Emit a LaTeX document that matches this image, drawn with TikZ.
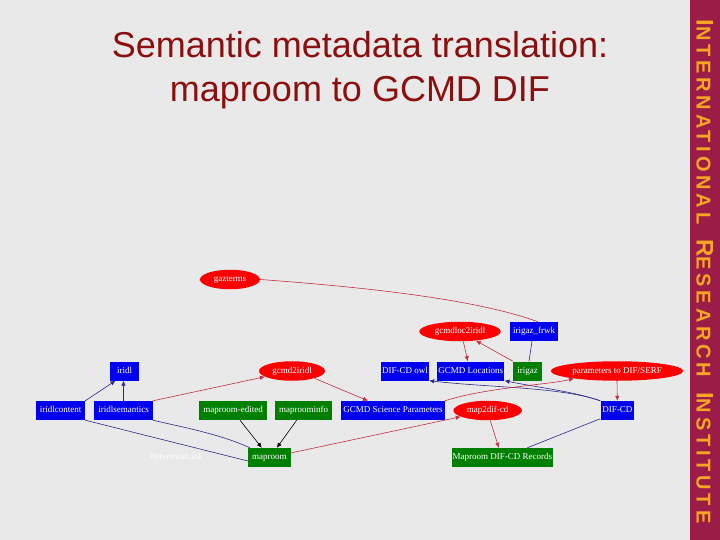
\documentclass[tikz,border=0pt]{standalone}
\usepackage{fontspec}
\setmainfont{Liberation Serif}
\newfontfamily\titlefont{Liberation Sans}
\newfontfamily\bandfont[LetterSpace=19]{Liberation Sans Bold}
\usetikzlibrary{shapes.geometric,arrows.meta}
\definecolor{bgc}{HTML}{E9E9E9}
\definecolor{bandc}{HTML}{9C1C48}
\definecolor{goldc}{HTML}{F5A623}
\definecolor{titlec}{HTML}{8A0F0F}
\definecolor{nblue}{HTML}{0000EE}
\definecolor{ngreen}{HTML}{007F00}
\definecolor{nred}{HTML}{FA0000}
\definecolor{eblue}{HTML}{28288C}
\definecolor{ered}{HTML}{C03040}
\newcommand{\initcap}[1]{{\fontsize{24}{26}\selectfont #1}}
\tikzset{
  x=1pt,y=-1pt,
  lbl/.style={text=white,inner sep=0pt,text height=6pt,text depth=1.8pt,font=\fontsize{9}{10}\selectfont},
  bluebox/.style={lbl,rectangle,fill=nblue,minimum height=19pt},
  greenbox/.style={lbl,rectangle,fill=ngreen,minimum height=19pt},
  redell/.style={lbl,ellipse,fill=nred,minimum height=19.5pt},
  tipped/.style={-{Latex[length=5pt,width=4.5pt]}},
  redge/.style={draw=ered,line width=0.6pt},
  bedge/.style={draw=eblue,line width=0.6pt},
  kedge/.style={draw=black,line width=0.6pt},
  titletext/.style={text=titlec,inner sep=0pt,anchor=base,font=\titlefont\fontsize{36}{42}\selectfont},
  bandtext/.style={text=goldc,inner sep=0pt,rotate=-90,anchor=base},
}
\begin{document}
\begin{tikzpicture}
\useasboundingbox (0,0) rectangle (720,540);
\fill[bgc] (0,0) rectangle (690,540);
\fill[bandc] (690,0) rectangle (720,540);
\node[bandtext] (band) at (696.5,271.5) {\bandfont\fontsize{20}{26}\selectfont\initcap{I}NTERNATIONAL\hspace{15pt}\initcap{R}ESEARCH\hspace{15pt}\initcap{I}NSTITUTE};
\node[titletext] (t1) at (360,57.5) {Semantic metadata translation:};
\node[titletext] (t2) at (360,102) {maproom to GCMD DIF};

\node[redell,minimum width=60pt] (gazterms) at (230,279.5) {gazterms};
\node[bluebox,minimum width=28.5pt] (iridl) at (124.5,371) {iridl};
\node[redell,minimum width=66pt] (gcmd2iridl) at (292,371) {gcmd2iridl};
\node[bluebox,minimum width=49pt] (iridlcontent) at (60.5,410.5) {iridlcontent};
\node[bluebox,minimum width=58.5pt] (iridlsemantics) at (123.5,410.5) {iridlsemantics};
\node[greenbox,minimum width=68pt] (edited) at (233,410.5) {maproom-edited};
\node[greenbox,minimum width=57pt] (info) at (303.5,410.5) {maproominfo};
\node[greenbox,minimum width=42.5pt] (maproom) at (269.3,457.5) {maproom};
\node[lbl] (reflink) at (176,457.5) {ReferenceLink};
\node[redell,minimum width=81.5pt] (gcmdoc) at (460,331.5) {gcmdloc2iridl};
\node[bluebox,minimum width=48pt] (frwk) at (534,331.5) {irigaz\_frwk};
\node[bluebox,minimum width=48pt] (owl) at (405,371) {DIF-CD owl};
\node[bluebox,minimum width=67pt] (loc) at (470.8,371) {GCMD Locations};
\node[greenbox,minimum width=28.5pt] (irigaz) at (527.5,371) {irigaz};
\node[redell,minimum width=132.5pt] (params) at (617,371) {parameters to DIF/SERF};
\node[bluebox,minimum width=103.5pt] (science) at (393,410.5) {GCMD Science Parameters};
\node[redell,minimum width=68.5pt] (map2dif) at (487.7,410.5) {map2dif-cd};
\node[bluebox,minimum width=33.5pt] (difcd) at (617.3,410.5) {DIF-CD};
\node[greenbox,minimum width=100.5pt] (records) at (502.3,457.5) {Maproom DIF-CD Records};

\draw[redge] (gazterms.east) .. controls +(110,8) and +(-60,-22) .. ([xshift=4pt]frwk.north);
\draw[bedge] ([xshift=-2pt]frwk.south) -- ([xshift=1.5pt]irigaz.north);
\draw[redge,tipped] (irigaz.north west) -- (gcmdoc.-30);
\draw[redge,tipped] ([xshift=3.3pt]gcmdoc.south) -- ([xshift=-3pt]loc.north);
\draw[bedge,tipped] (difcd.north west) .. controls +(-40,-14) and +(60,7) .. (owl.south east);
\draw[bedge,tipped] (difcd.north west) .. controls +(-30,-10) and +(40,8) .. (loc.south east);
\draw[redge,tipped] (science.north east) .. controls +(40,-13) and +(-25,6) .. (params.-170);
\draw[redge,tipped] (params.south) -- (difcd.north);
\draw[redge,tipped] ([xshift=2.5pt]map2dif.south) -- ([xshift=-3.5pt]records.north);
\draw[bedge] ([xshift=25pt]records.north) -- ([yshift=1.5pt]difcd.south west);
\draw[redge,tipped] ([yshift=4.5pt]maproom.east) -- (map2dif.-167);
\draw[redge,tipped] (gcmd2iridl.-18) -- ([xshift=-25pt]science.north);
\draw[redge,tipped] (iridlsemantics.north east) -- (gcmd2iridl.192);
\draw[bedge,tipped] (iridlsemantics.north) -- ([xshift=-1pt]iridl.south);
\draw[bedge,tipped] (iridlcontent.north east) -- ([xshift=-9pt]iridl.south);
\draw[bedge] ([yshift=-3.5pt]maproom.west) -- (iridlcontent.south east);
\draw[bedge] ([xshift=2pt]maproom.north west) .. controls +(-30,-14) and +(25,6) .. (iridlsemantics.south east);
\draw[kedge,tipped] ([xshift=7pt]edited.south) -- ([xshift=-7.5pt]maproom.north);
\draw[kedge,tipped] ([xshift=-6.8pt]info.south) -- ([xshift=7.5pt]maproom.north);
\end{tikzpicture}
\end{document}
